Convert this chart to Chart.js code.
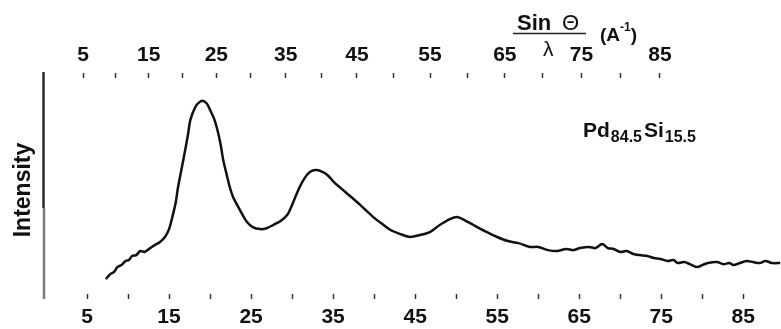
<!DOCTYPE html>
<html>
<head>
<meta charset="utf-8">
<script src="https://cdn.jsdelivr.net/npm/chart.js@4/dist/chart.umd.min.js"></script>
<style>
  html, body { margin: 0; padding: 0; background: #fff; }
  #wrap { width: 781px; height: 329px; }
</style>
</head>
<body>
<div id="wrap"><canvas id="c" width="781" height="329"></canvas></div>
<script>
// Scattering coordinate of each sample (bottom axis units)
const scatteringVector = [
  7.3, 7.8, 8.3, 8.7, 9.2, 9.7, 10.1, 10.5, 11.0, 11.5, 12.0, 12.7, 13.3, 13.9, 14.5,
  15.0, 15.4, 15.8, 16.1, 16.5, 16.9, 17.3, 17.6, 18.2, 18.6, 19.1, 19.6, 20.0, 20.5,
  20.9, 21.3, 21.6, 22.0, 22.4, 22.8, 23.3, 23.9, 24.5, 25.2, 26.1, 26.9, 27.7, 28.6,
  29.4, 30.0, 30.6, 31.2, 31.8, 32.4, 33.0, 33.7, 34.3, 35.1, 35.9, 37.1, 38.3, 39.1,
  39.9, 41.0, 42.0, 43.2, 44.4, 45.6, 46.8, 48.0, 49.3, 50.1, 51.0, 52.1, 53.5, 55.0,
  56.3, 57.6, 59.0, 60.0, 61.2, 62.3, 63.4, 64.3, 65.1, 66.2, 67.0, 67.8, 68.5, 69.2,
  70.0, 70.8, 71.6, 72.4, 73.3, 74.1, 74.9, 75.8, 76.5, 77.0, 77.8, 78.5, 79.4, 80.0,
  80.7, 81.8, 82.6, 83.3, 83.8, 84.6, 85.4, 86.2, 87.0, 87.7, 88.5, 89.5
];

// Scattered intensity (arbitrary units)
const intensity = [
  8.4, 10.5, 11.6, 13.7, 14.6, 16.4, 16.8, 18.6, 19.0, 20.8, 20.4, 22.1, 23.5, 24.8, 27.0,
  30.5, 35.8, 42.0, 49.1, 56.6, 64.2, 72.1, 78.8, 84.5, 86.3, 87.2, 86.0, 83.2, 79.2,
  74.3, 67.7, 61.1, 55.0, 49.1, 44.7, 41.2, 37.2, 33.6, 31.4, 30.5, 30.9, 32.3, 34.1,
  36.7, 41.2, 46.5, 51.0, 54.4, 56.2, 56.6, 55.8, 54.4, 51.3, 48.7, 45.0, 41.2, 38.5,
  35.8, 32.7, 30.1, 28.3, 27.0, 27.9, 29.2, 32.3, 35.0, 35.8, 34.5, 32.3, 29.6, 27.0,
  25.2, 24.3, 22.6, 22.6, 21.2, 20.8, 21.7, 21.2, 22.1, 22.6, 22.1, 23.9, 22.1, 21.7,
  20.4, 20.8, 19.5, 19.0, 18.6, 17.7, 17.3, 16.4, 16.8, 15.5, 15.9, 15.0, 13.7, 14.6,
  15.5, 15.9, 15.0, 15.5, 14.6, 15.5, 16.4, 15.9, 15.5, 16.4, 15.5, 15.5
];

// Tick marks on both horizontal axes, and the ones that carry a number
const tickValues = [5, 10, 15, 20, 25, 30, 35, 40, 45, 50, 55, 60, 65, 70, 75, 80, 85];
const tickLabels = [5, 15, 25, 35, 45, 55, 65, 75, 85];

const sampleName = { element1: 'Pd', frac1: '84.5', element2: 'Si', frac2: '15.5' };
const yTitle = 'Intensity';

const FONT = '"Liberation Sans", Arial, Helvetica, sans-serif';

// Linear scale whose spacing widens slightly toward the right (printed top scale)
class WarpedScale extends Chart.LinearScale {
  getPixelForValue(value) {
    const t = (value - this.min) / (this.max - this.min);
    const k = this.options.warp || 0;
    return this.getPixelForDecimal(t + k * t * (t - 1));
  }
}
WarpedScale.id = 'warped';
WarpedScale.defaults = Chart.LinearScale.defaults;
Chart.register(WarpedScale);

function axisOptions(type, position, min, max, height, pad) {
  return {
    type: type,
    position: position,
    min: min,
    max: max,
    afterBuildTicks: (s) => { s.ticks = tickValues.map(v => ({ value: v })); },
    afterFit: (s) => { s.height = height; },
    ticks: {
      autoSkip: false,
      maxRotation: 0,
      padding: pad,
      color: '#111',
      font: { family: FONT, size: 21, weight: 'bold' },
      callback: (v) => tickLabels.includes(v) ? String(v) : ''
    },
    grid: {
      drawOnChartArea: false,
      drawTicks: true,
      tickLength: 5,
      tickColor: '#333',
      tickWidth: 1.5
    },
    border: { display: false }
  };
}

// Axis line on the left and the text annotations
const annotations = {
  id: 'annotations',
  afterDraw(chart) {
    const ctx = chart.ctx;
    const a = chart.chartArea;
    ctx.save();

    // vertical intensity axis line
    ctx.lineCap = 'butt';
    ctx.lineWidth = 2.5;
    ctx.strokeStyle = '#2a2a2a';
    ctx.beginPath();
    ctx.moveTo(a.left - 2.5, a.top - 6);
    ctx.lineTo(a.left - 2.5, a.top + 130);
    ctx.stroke();
    ctx.strokeStyle = '#7a7a7a';
    ctx.beginPath();
    ctx.moveTo(a.left - 2, a.top + 130);
    ctx.lineTo(a.left - 2, a.bottom + 5);
    ctx.stroke();

    // y title
    ctx.fillStyle = '#111';
    ctx.font = 'bold 23px ' + FONT;
    ctx.textAlign = 'center';
    ctx.textBaseline = 'middle';
    ctx.save();
    ctx.translate(24, 190);
    ctx.rotate(-Math.PI / 2);
    ctx.fillText(yTitle, 0, 0);
    ctx.restore();

    // top axis title: Sin Θ / λ (A^-1)
    ctx.textAlign = 'left';
    ctx.textBaseline = 'alphabetic';
    ctx.font = 'bold 22px ' + FONT;
    ctx.fillText('Sin', 517, 30);
    ctx.font = '22px ' + FONT;
    ctx.fillText('\u0398', 562, 30);
    ctx.lineWidth = 1.5;
    ctx.strokeStyle = '#222';
    ctx.beginPath();
    ctx.moveTo(513, 33.5);
    ctx.lineTo(586, 33.5);
    ctx.stroke();
    ctx.font = '21px ' + FONT;
    ctx.fillText('\u03BB', 543, 56);
    ctx.font = 'bold 19px ' + FONT;
    ctx.fillText('(A', 600, 41);
    let w = ctx.measureText('(A').width;
    ctx.font = 'bold 12px ' + FONT;
    ctx.fillText('-1', 600 + w, 31);
    let w2 = ctx.measureText('-1').width;
    ctx.font = 'bold 19px ' + FONT;
    ctx.fillText(')', 600 + w + w2, 41);

    // sample composition
    let x = 583;
    const base = 137;
    ctx.font = 'bold 21px ' + FONT;
    ctx.fillText(sampleName.element1, x, base);
    x += ctx.measureText(sampleName.element1).width + 1;
    ctx.font = 'bold 16px ' + FONT;
    ctx.fillText(sampleName.frac1, x, base + 5);
    x += ctx.measureText(sampleName.frac1).width + 2;
    ctx.font = 'bold 21px ' + FONT;
    ctx.fillText(sampleName.element2, x, base);
    x += ctx.measureText(sampleName.element2).width + 1;
    ctx.font = 'bold 16px ' + FONT;
    ctx.fillText(sampleName.frac2, x, base + 5);

    ctx.restore();
  }
};

new Chart(document.getElementById('c'), {
  type: 'line',
  data: {
    datasets: [{
      data: scatteringVector.map((q, i) => ({ x: q, y: intensity[i] })),
      borderColor: '#111',
      borderWidth: 2.5,
      pointRadius: 0,
      tension: 0.3,
      fill: false
    }]
  },
  options: {
    responsive: false,
    animation: false,
    devicePixelRatio: 1,
    layout: { padding: { left: 46, right: 0, top: 0, bottom: 0 } },
    plugins: { legend: { display: false }, tooltip: { enabled: false } },
    scales: {
      x: axisOptions('linear', 'bottom', 0, 89.6, 35, 6),
      x2: Object.assign(axisOptions('warped', 'top', -0.75, 100.0, 78, 5), { warp: 0.125 }),
      y: { display: false, min: 1.8, max: 97.3 }
    }
  },
  plugins: [annotations]
});
</script>
</body>
</html>
